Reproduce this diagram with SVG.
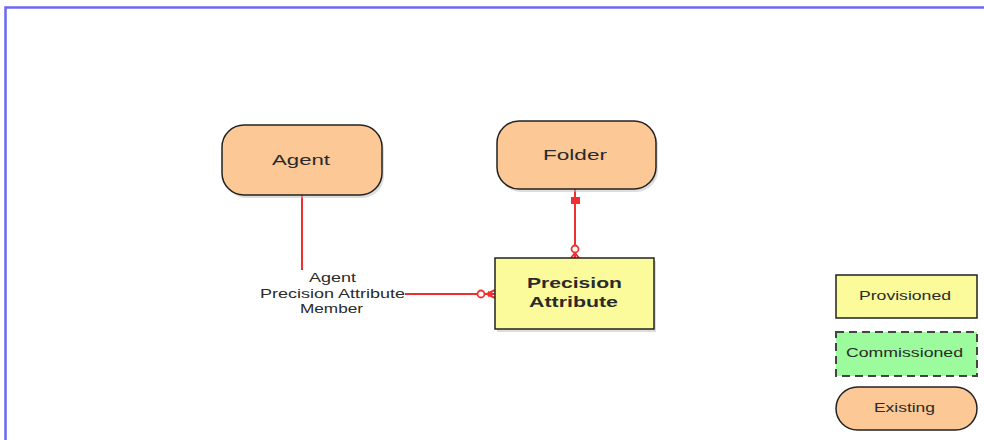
<svg xmlns="http://www.w3.org/2000/svg" width="984" height="440" viewBox="0 0 984 440">
<style>
.t{font-family:"Liberation Sans",Arial,sans-serif;fill:#2a2a2a;text-anchor:middle}
.ex{fill:#fbc896;stroke:#222;stroke-width:1.5}
.pv{fill:#fbfb9c;stroke:#222;stroke-width:1.5}
.cm{fill:#9cfb9c;stroke:#444;stroke-width:2;stroke-dasharray:8,5}
.sh{fill:#bbb;opacity:0.5}
.ln{stroke:#f03030;stroke-width:2;fill:none}
</style>
<rect x="0" y="0" width="984" height="440" fill="#fff"/>
<path d="M5.5 440 V7.5 H984" fill="none" stroke="#6a6af0" stroke-width="2.5"/>
<g id="connectors">
<line class="ln" x1="302" y1="195" x2="302" y2="270"/>
<line class="ln" x1="405" y1="294" x2="495" y2="294"/>
<circle cx="481" cy="294" r="3.5" fill="#fff" stroke="#f03030" stroke-width="1.8"/>
<path d="M487 294 L495 290 M487 294 L495 298" class="ln" stroke-width="2"/>
<path d="M488 291 L495 294 L488 297 Z" fill="#f03030"/>
<line class="ln" x1="575" y1="189" x2="575" y2="258"/>
<rect x="571" y="197" width="9" height="7" fill="#f03030"/>
<circle cx="575" cy="249" r="3.5" fill="#fff" stroke="#f03030" stroke-width="1.8"/>
<path d="M575 253 L571 258 M575 253 L579 258" class="ln" stroke-width="1.8"/>
</g>
<g id="agent">
<rect class="sh" x="224" y="128" width="160" height="70" rx="22"/>
<rect class="ex" x="222" y="125" width="160" height="70" rx="22"/>
<text class="t" x="301" y="165" font-size="15" textLength="58" lengthAdjust="spacingAndGlyphs">Agent</text>
</g>
<g id="folder">
<rect class="sh" x="499" y="124" width="159" height="68" rx="22"/>
<rect class="ex" x="497" y="121" width="159" height="68" rx="22"/>
<text class="t" x="575" y="160" font-size="15" textLength="64" lengthAdjust="spacingAndGlyphs">Folder</text>
</g>
<g id="precision-attribute">
<rect class="sh" x="497" y="261" width="159" height="71"/>
<rect class="pv" x="495" y="258" width="159" height="71"/>
<text class="t" x="574.5" y="288" font-size="15" font-weight="bold" textLength="95" lengthAdjust="spacingAndGlyphs">Precision</text>
<text class="t" x="573.5" y="307" font-size="15" font-weight="bold" textLength="89" lengthAdjust="spacingAndGlyphs">Attribute</text>
</g>
<g id="relationship-label">
<text class="t" x="332.5" y="282" font-size="13" textLength="47" lengthAdjust="spacingAndGlyphs">Agent</text>
<text class="t" x="332.5" y="298" font-size="13" textLength="145" lengthAdjust="spacingAndGlyphs">Precision Attribute</text>
<text class="t" x="331.5" y="313" font-size="13" textLength="63" lengthAdjust="spacingAndGlyphs">Member</text>
</g>
<g id="legend-provisioned">
<rect class="pv" x="836" y="275" width="141" height="43"/>
<text class="t" x="905" y="300" font-size="13" textLength="92" lengthAdjust="spacingAndGlyphs">Provisioned</text>
</g>
<g id="legend-commissioned">
<rect class="cm" x="836" y="332" width="141" height="44"/>
<text class="t" x="904.5" y="357" font-size="13" textLength="117" lengthAdjust="spacingAndGlyphs">Commissioned</text>
</g>
<g id="legend-existing">
<rect class="ex" x="836" y="387" width="141" height="43" rx="21.5"/>
<text class="t" x="904.5" y="412" font-size="13" textLength="61" lengthAdjust="spacingAndGlyphs">Existing</text>
</g>
</svg>
